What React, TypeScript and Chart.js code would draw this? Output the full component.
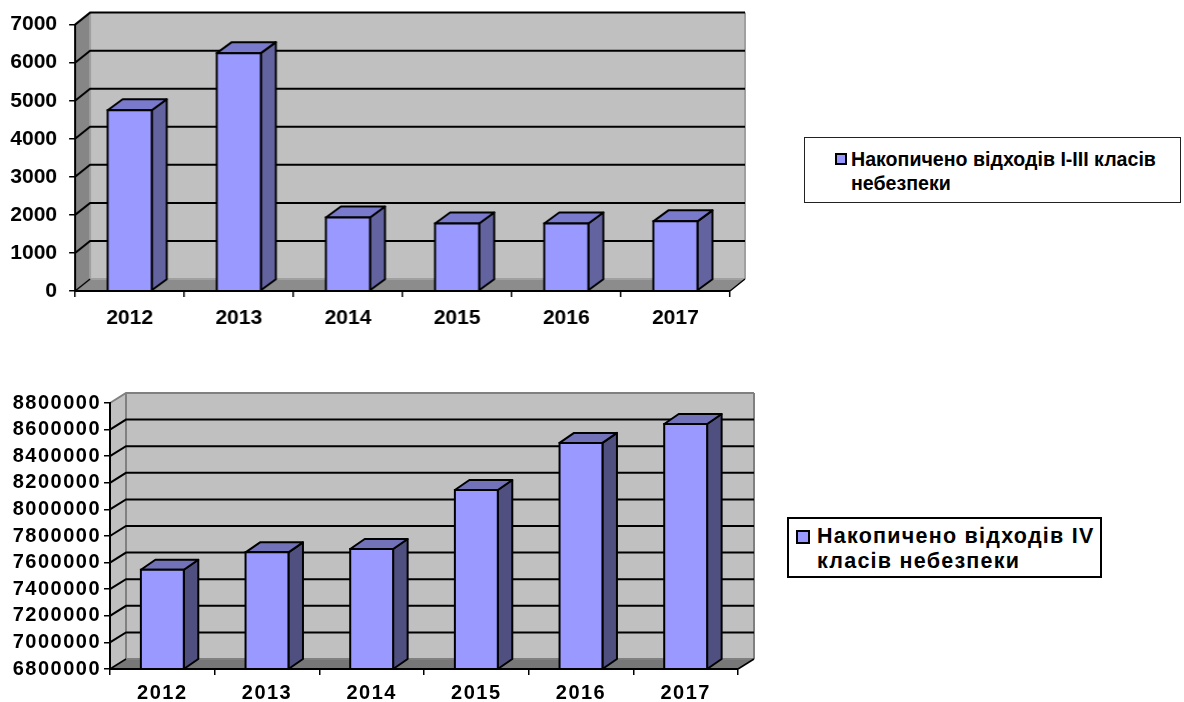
import React, { useEffect, useRef } from "react";
import { Chart, registerables } from "chart.js";

Chart.register(...registerables);

const categories = ["2012", "2013", "2014", "2015", "2016", "2017"];
const wasteClassOneToThree = [4750, 6250, 1930, 1775, 1775, 1830];
const wasteClassFour = [7546000, 7677000, 7702000, 8146000, 8500000, 8642000];
const legendOneLines = ["Накопичено відходів I-III класів", "небезпеки"];
const legendTwoLines = ["Накопичено відходів IV", "класів небезпеки"];

const FONT = '"Liberation Sans", Arial, sans-serif';

type Style = {
  depthX: number; depthY: number; barDepthX: number; barDepthY: number;
  side: string; top: string; wall: string; sideWall: string; floor: string;
  gridWidth: number; wallEdge: string; topEdge: string; letterSpacing: string;
};

const depthPlugin = (st: Style) => ({
  id: "depth",
  beforeDraw(chart: any) {
    const ctx = chart.ctx;
    (ctx as any).letterSpacing = st.letterSpacing;
    const { left: l, right: r, top: t, bottom: b } = chart.chartArea;
    const dx = st.depthX, dy = st.depthY;
    const poly = (pts: number[][], fill: string) => {
      ctx.beginPath();
      pts.forEach((p, i) => (i ? ctx.lineTo(p[0], p[1]) : ctx.moveTo(p[0], p[1])));
      ctx.closePath();
      ctx.fillStyle = fill;
      ctx.fill();
    };
    const line = (pts: number[][], color: string, w: number) => {
      ctx.beginPath();
      pts.forEach((p, i) => (i ? ctx.lineTo(p[0], p[1]) : ctx.moveTo(p[0], p[1])));
      ctx.strokeStyle = color;
      ctx.lineWidth = w;
      ctx.stroke();
    };
    ctx.save();
    poly([[l + dx, t - dy], [r + dx, t - dy], [r + dx, b - dy], [l + dx, b - dy]], st.wall);
    poly([[l, t], [l + dx, t - dy], [l + dx, b - dy], [l, b]], st.sideWall);
    poly([[l, b], [l + dx, b - dy], [r + dx, b - dy], [r, b]], st.floor);
    line([[l + dx, t - dy], [l + dx, b - dy], [r + dx, b - dy]], st.wallEdge, 2);
    line([[r + dx, t - dy], [r + dx, b - dy]], st.wallEdge, 2);
    const ys = chart.scales.y;
    ys.ticks.forEach((tick: any, i: number) => {
      const y = ys.getPixelForTick(i);
      if (i === 0) return;
      const color = i === ys.ticks.length - 1 ? st.topEdge : "#000";
      line([[l, y], [l + dx, y - dy], [r + dx, y - dy]], color, st.gridWidth);
    });
    line([[l, b], [l + dx, b - dy]], "#000", 1.5);
    line([[r, b], [r + dx, b - dy]], "#000", 1.5);
    ctx.restore();
  },
  beforeDatasetsDraw(chart: any) {
    const ctx = chart.ctx;
    const dx = st.barDepthX, dy = st.barDepthY;
    const bottom = chart.chartArea.bottom;
    ctx.save();
    ctx.strokeStyle = "#000";
    ctx.lineWidth = 2;
    ctx.lineJoin = "round";
    chart.getDatasetMeta(0).data.forEach((bar: any) => {
      const hw = bar.width / 2;
      const x0 = bar.x - hw, x1 = bar.x + hw, yT = bar.y, yB = Math.min(bar.base, bottom);
      ctx.beginPath();
      ctx.moveTo(x1, yT); ctx.lineTo(x1 + dx, yT - dy); ctx.lineTo(x1 + dx, yB - dy); ctx.lineTo(x1, yB);
      ctx.closePath();
      ctx.fillStyle = st.side;
      ctx.fill();
      ctx.stroke();
      ctx.beginPath();
      ctx.moveTo(x0, yT); ctx.lineTo(x0 + dx, yT - dy); ctx.lineTo(x1 + dx, yT - dy); ctx.lineTo(x1, yT);
      ctx.closePath();
      ctx.fillStyle = st.top;
      ctx.fill();
      ctx.stroke();
    });
    ctx.restore();
  },
  afterDatasetsDraw(chart: any) {
    const ctx = chart.ctx;
    const { left: l, right: r, bottom: b } = chart.chartArea;
    ctx.save();
    ctx.strokeStyle = "#000";
    ctx.lineWidth = 2;
    chart.getDatasetMeta(0).data.forEach((bar: any) => {
      const hw = bar.width / 2;
      ctx.beginPath();
      ctx.moveTo(bar.x - hw, bar.y);
      ctx.lineTo(bar.x - hw, b);
      ctx.lineTo(bar.x + hw, b);
      ctx.lineTo(bar.x + hw, bar.y);
      ctx.closePath();
      ctx.stroke();
    });
    ctx.beginPath();
    ctx.moveTo(l, b);
    ctx.lineTo(r, b);
    ctx.stroke();
    ctx.restore();
  },
});

type PanelProps = {
  values: number[]; min: number; max: number; step: number; canvasTop: number; height: number;
  plotLeft: number; plotRight: number; plotTop: number; plotBottom: number;
  barRatio: number; yPad: number; xPad: number; fontSize: number; style: Style;
};

function Panel(p: PanelProps) {
  const ref = useRef<HTMLCanvasElement>(null);
  useEffect(() => {
    const width = p.plotRight + 50;
    const chart = new Chart(ref.current as HTMLCanvasElement, {
      type: "bar",
      data: {
        labels: categories,
        datasets: [{
          data: p.values,
          backgroundColor: "#9999FF",
          borderColor: "#000",
          borderWidth: 0,
          barPercentage: p.barRatio,
          categoryPercentage: 1,
        }],
      },
      options: {
        responsive: false,
        animation: false,
        layout: { padding: { left: 0, right: width - p.plotRight, top: p.plotTop, bottom: 0 } },
        plugins: { legend: { display: false }, tooltip: { enabled: false }, title: { display: false } },
        scales: {
          x: {
            afterFit: (s: any) => { s.height = p.height - p.plotBottom; },
            grid: { drawOnChartArea: false, drawTicks: true, tickLength: 6, color: "#000", lineWidth: 1.5 },
            border: { display: true, color: "#000", width: 2 },
            ticks: { color: "#000", padding: p.xPad, maxRotation: 0, font: { family: FONT, size: p.fontSize, weight: "bold" } },
          },
          y: {
            min: p.min, max: p.max,
            afterFit: (s: any) => { s.width = p.plotLeft; },
            grid: { drawOnChartArea: false, drawTicks: true, tickLength: 6, color: "#000", lineWidth: 1.5 },
            border: { display: true, color: "#000", width: 2 },
            ticks: {
              stepSize: p.step, autoSkip: false, color: "#000", padding: p.yPad,
              callback: (v: any) => String(v),
              font: { family: FONT, size: p.fontSize, weight: "bold" },
            },
          },
        },
      } as any,
      plugins: [depthPlugin(p.style)],
    });
    return () => chart.destroy();
  }, []);
  return (
    <canvas
      ref={ref}
      width={p.plotRight + 50}
      height={p.height}
      style={{ position: "absolute", left: 0, top: p.canvasTop, width: p.plotRight + 50, height: p.height }}
    />
  );
}

function Legend(props: {
  lines: string[]; left: number; top: number; width: number; height: number; border: number;
  markerLeft: number; markerTop: number; markerSize: number; textLeft: number; textTop: number;
  lineHeight: number; fontSize: number; spacing: number; edge: string;
}) {
  const p = props;
  return (
    <div style={{
      position: "absolute", left: p.left, top: p.top, width: p.width, height: p.height,
      boxSizing: "border-box", border: `${p.border}px solid ${p.edge}`, background: "#fff",
    }}>
      <div style={{
        position: "absolute", left: p.markerLeft, top: p.markerTop, width: p.markerSize, height: p.markerSize,
        boxSizing: "border-box", background: "#9999FF", border: "2px solid #000",
      }} />
      <div style={{
        position: "absolute", left: p.textLeft, top: p.textTop, whiteSpace: "nowrap",
        font: `bold ${p.fontSize}px/${p.lineHeight}px ${FONT}`, letterSpacing: p.spacing, color: "#000",
      }}>
        {p.lines.map((t) => <div key={t}>{t}</div>)}
      </div>
    </div>
  );
}

export default function App() {
  return (
    <div style={{ position: "absolute", left: 0, top: 0, width: 1184, height: 702, overflow: "hidden", background: "#fff" }}>
      <Panel
        values={wasteClassOneToThree} min={0} max={7000} step={1000}
        canvasTop={0} height={340} plotLeft={75} plotRight={729.5} plotTop={23} plotBottom={291}
        barRatio={0.404} yPad={12} xPad={9} fontSize={21}
        style={{
          depthX: 15, depthY: 12, barDepthX: 15, barDepthY: 11, side: "#63639F", top: "#7A7ACC",
          wall: "#C0C0C0", sideWall: "#868686", floor: "#8C8C8C", gridWidth: 2,
          wallEdge: "#A0A0A0", topEdge: "#000", letterSpacing: "0px",
        }}
      />
      <Panel
        values={wasteClassFour} min={6800000} max={8800000} step={200000}
        canvasTop={360} height={342} plotLeft={110} plotRight={738} plotTop={43} plotBottom={309}
        barRatio={0.41} yPad={3} xPad={6} fontSize={20}
        style={{
          depthX: 16, depthY: 10, barDepthX: 14.5, barDepthY: 10, side: "#4F4F80", top: "#7272B8",
          wall: "#C0C0C0", sideWall: "#C0C0C0", floor: "#777777", gridWidth: 2,
          wallEdge: "#808080", topEdge: "#808080", letterSpacing: "1.5px",
        }}
      />
      <Legend
        lines={legendOneLines} left={804} top={137} width={377} height={66} border={1} edge="#222"
        markerLeft={30} markerTop={15} markerSize={12} textLeft={46} textTop={9}
        lineHeight={24} fontSize={19.6} spacing={0}
      />
      <Legend
        lines={legendTwoLines} left={787} top={517} width={315} height={61} border={2} edge="#000"
        markerLeft={7} markerTop={11} markerSize={14} textLeft={28} textTop={5}
        lineHeight={25} fontSize={21.5} spacing={1.25}
      />
    </div>
  );
}
